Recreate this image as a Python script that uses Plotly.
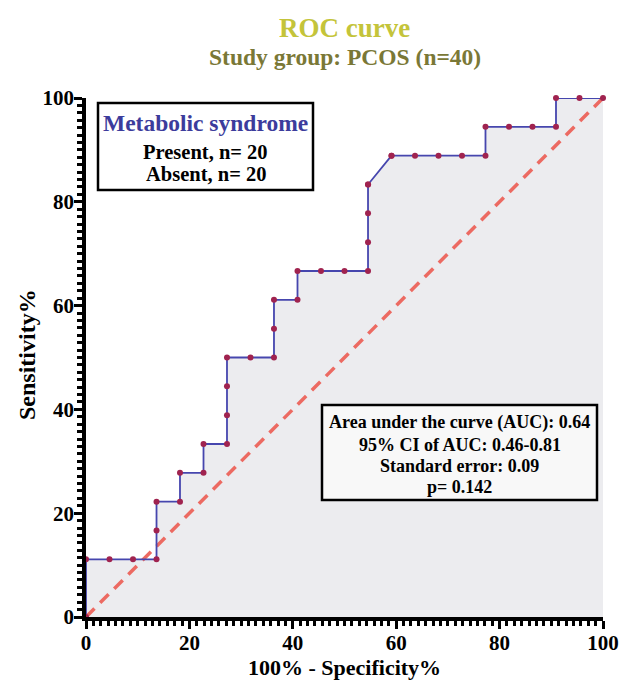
import plotly.graph_objects as go

# ROC curve data (100% - Specificity%, Sensitivity%)
fpr = [0, 0, 4.545, 9.091, 13.64, 13.64, 13.64, 18.18, 18.18, 22.73, 22.73,
       27.27, 27.27, 27.27, 27.27, 31.82, 36.36, 36.36, 36.36, 40.91, 40.91,
       45.45, 50.0, 54.55, 54.55, 54.55, 54.55, 54.55, 59.09, 59.09, 63.64,
       68.18, 72.73, 77.27, 77.27, 81.82, 86.36, 90.91, 90.91, 95.45, 100]
tpr = [0, 11.11, 11.11, 11.11, 11.11, 16.67, 22.22, 22.22, 27.78, 27.78, 33.33,
       33.33, 38.89, 44.44, 50.0, 50.0, 50.0, 55.56, 61.11, 61.11, 66.67,
       66.67, 66.67, 66.67, 72.22, 77.78, 83.33, 83.33, 88.89, 88.89, 88.89,
       88.89, 88.89, 88.89, 94.44, 94.44, 94.44, 94.44, 100, 100, 100]
diag_x = [0, 100]
diag_y = [0, 100]
tick_vals = [0, 20, 40, 60, 80, 100]

title_text = "ROC curve"
subtitle_text = "Study group: PCOS (n=40)"
box1_lines = ["Metabolic syndrome", "Present, n= 20", "Absent, n= 20"]
box2_lines = ["Area under the curve (AUC): 0.64", "95% CI of AUC: 0.46-0.81",
              "Standard error: 0.09", "p= 0.142"]

FONT = "Liberation Serif"

fig = go.Figure()
fig.add_trace(go.Scatter(x=fpr, y=tpr, mode="none", fill="tozeroy",
                         fillcolor="#ececef", hoverinfo="skip", showlegend=False))
fig.add_trace(go.Scatter(x=diag_x, y=diag_y, mode="lines",
                         line=dict(color="#ec6a62", width=3.5, dash="12px,8px"),
                         showlegend=False, cliponaxis=False))
fig.add_trace(go.Scatter(x=fpr, y=tpr, mode="lines+markers",
                         line=dict(color="#4646ae", width=1.8),
                         marker=dict(color="#a0234f", size=6),
                         showlegend=False, cliponaxis=False))

axis_common = dict(
    range=[0, 100], tickvals=tick_vals, showgrid=False, zeroline=False,
    automargin=False,
    showline=True, linecolor="black", linewidth=3.5,
    ticks="outside", ticklen=8, tickwidth=3, tickcolor="black",
    ticklabelstandoff=-4,
    tickfont=dict(family=FONT, size=21, color="black", weight="bold"),
    minor=dict(dtick=20 / 14, ticks="outside", ticklen=5, tickwidth=2.5, tickcolor="black"),
)
fig.update_xaxes(**axis_common)
fig.update_yaxes(**axis_common)

# Plot area: x 86..603, y 98..617 px
L, R, T, B = 86, 603, 98, 617
W, H = R - L, B - T
def px(x):
    return (x - L) / W
def py(y):
    return (B - y) / H

anns = []
anns.append(dict(text=title_text, x=0.5, y=py(28), font=dict(family=FONT, size=27, color="#c4c43a", weight="bold")))
anns.append(dict(text=subtitle_text, x=0.5, y=py(57), font=dict(family=FONT, size=23.5, color="#7a7836", weight="bold")))
anns.append(dict(text="100% - Specificity%", x=0.5, y=py(667), font=dict(family=FONT, size=22, color="black", weight="bold")))
anns.append(dict(text="Sensitivity%", x=px(27), y=py(355), textangle=-90, font=dict(family=FONT, size=24, color="black", weight="bold")))

b1x = px((98 + 313) / 2)
anns.append(dict(text=box1_lines[0], x=b1x, y=py(123), font=dict(family=FONT, size=23.5, color="#3c3c9c", weight="bold")))
anns.append(dict(text=box1_lines[1], x=b1x, y=py(152), font=dict(family=FONT, size=20.5, color="black", weight="bold")))
anns.append(dict(text=box1_lines[2], x=b1x, y=py(174), font=dict(family=FONT, size=20.5, color="black", weight="bold")))

b2x = px((322 + 597) / 2)
for line, yy in zip(box2_lines, [422, 445, 466, 487]):
    anns.append(dict(text=line, x=b2x, y=py(yy), font=dict(family=FONT, size=18, color="black", weight="bold")))

for a in anns:
    a.update(xref="paper", yref="paper", showarrow=False, xanchor="center", yanchor="middle")

shapes = [
    dict(type="rect", xref="paper", yref="paper", x0=px(98), x1=px(313), y0=py(190), y1=py(103),
         line=dict(color="black", width=2.5), fillcolor="white", layer="below"),
    dict(type="rect", xref="paper", yref="paper", x0=px(322), x1=px(597), y0=py(500), y1=py(405),
         line=dict(color="black", width=2.5), fillcolor="#f8f8f8", layer="above"),
]

fig.update_layout(
    width=620, height=692,
    margin=dict(l=L, r=620 - R, t=T, b=692 - B),
    plot_bgcolor="white", paper_bgcolor="white",
    annotations=anns, shapes=shapes,
)
fig.write_html("out.html", config={"displayModeBar": False},
               post_script="document.body.style.margin='0';")
